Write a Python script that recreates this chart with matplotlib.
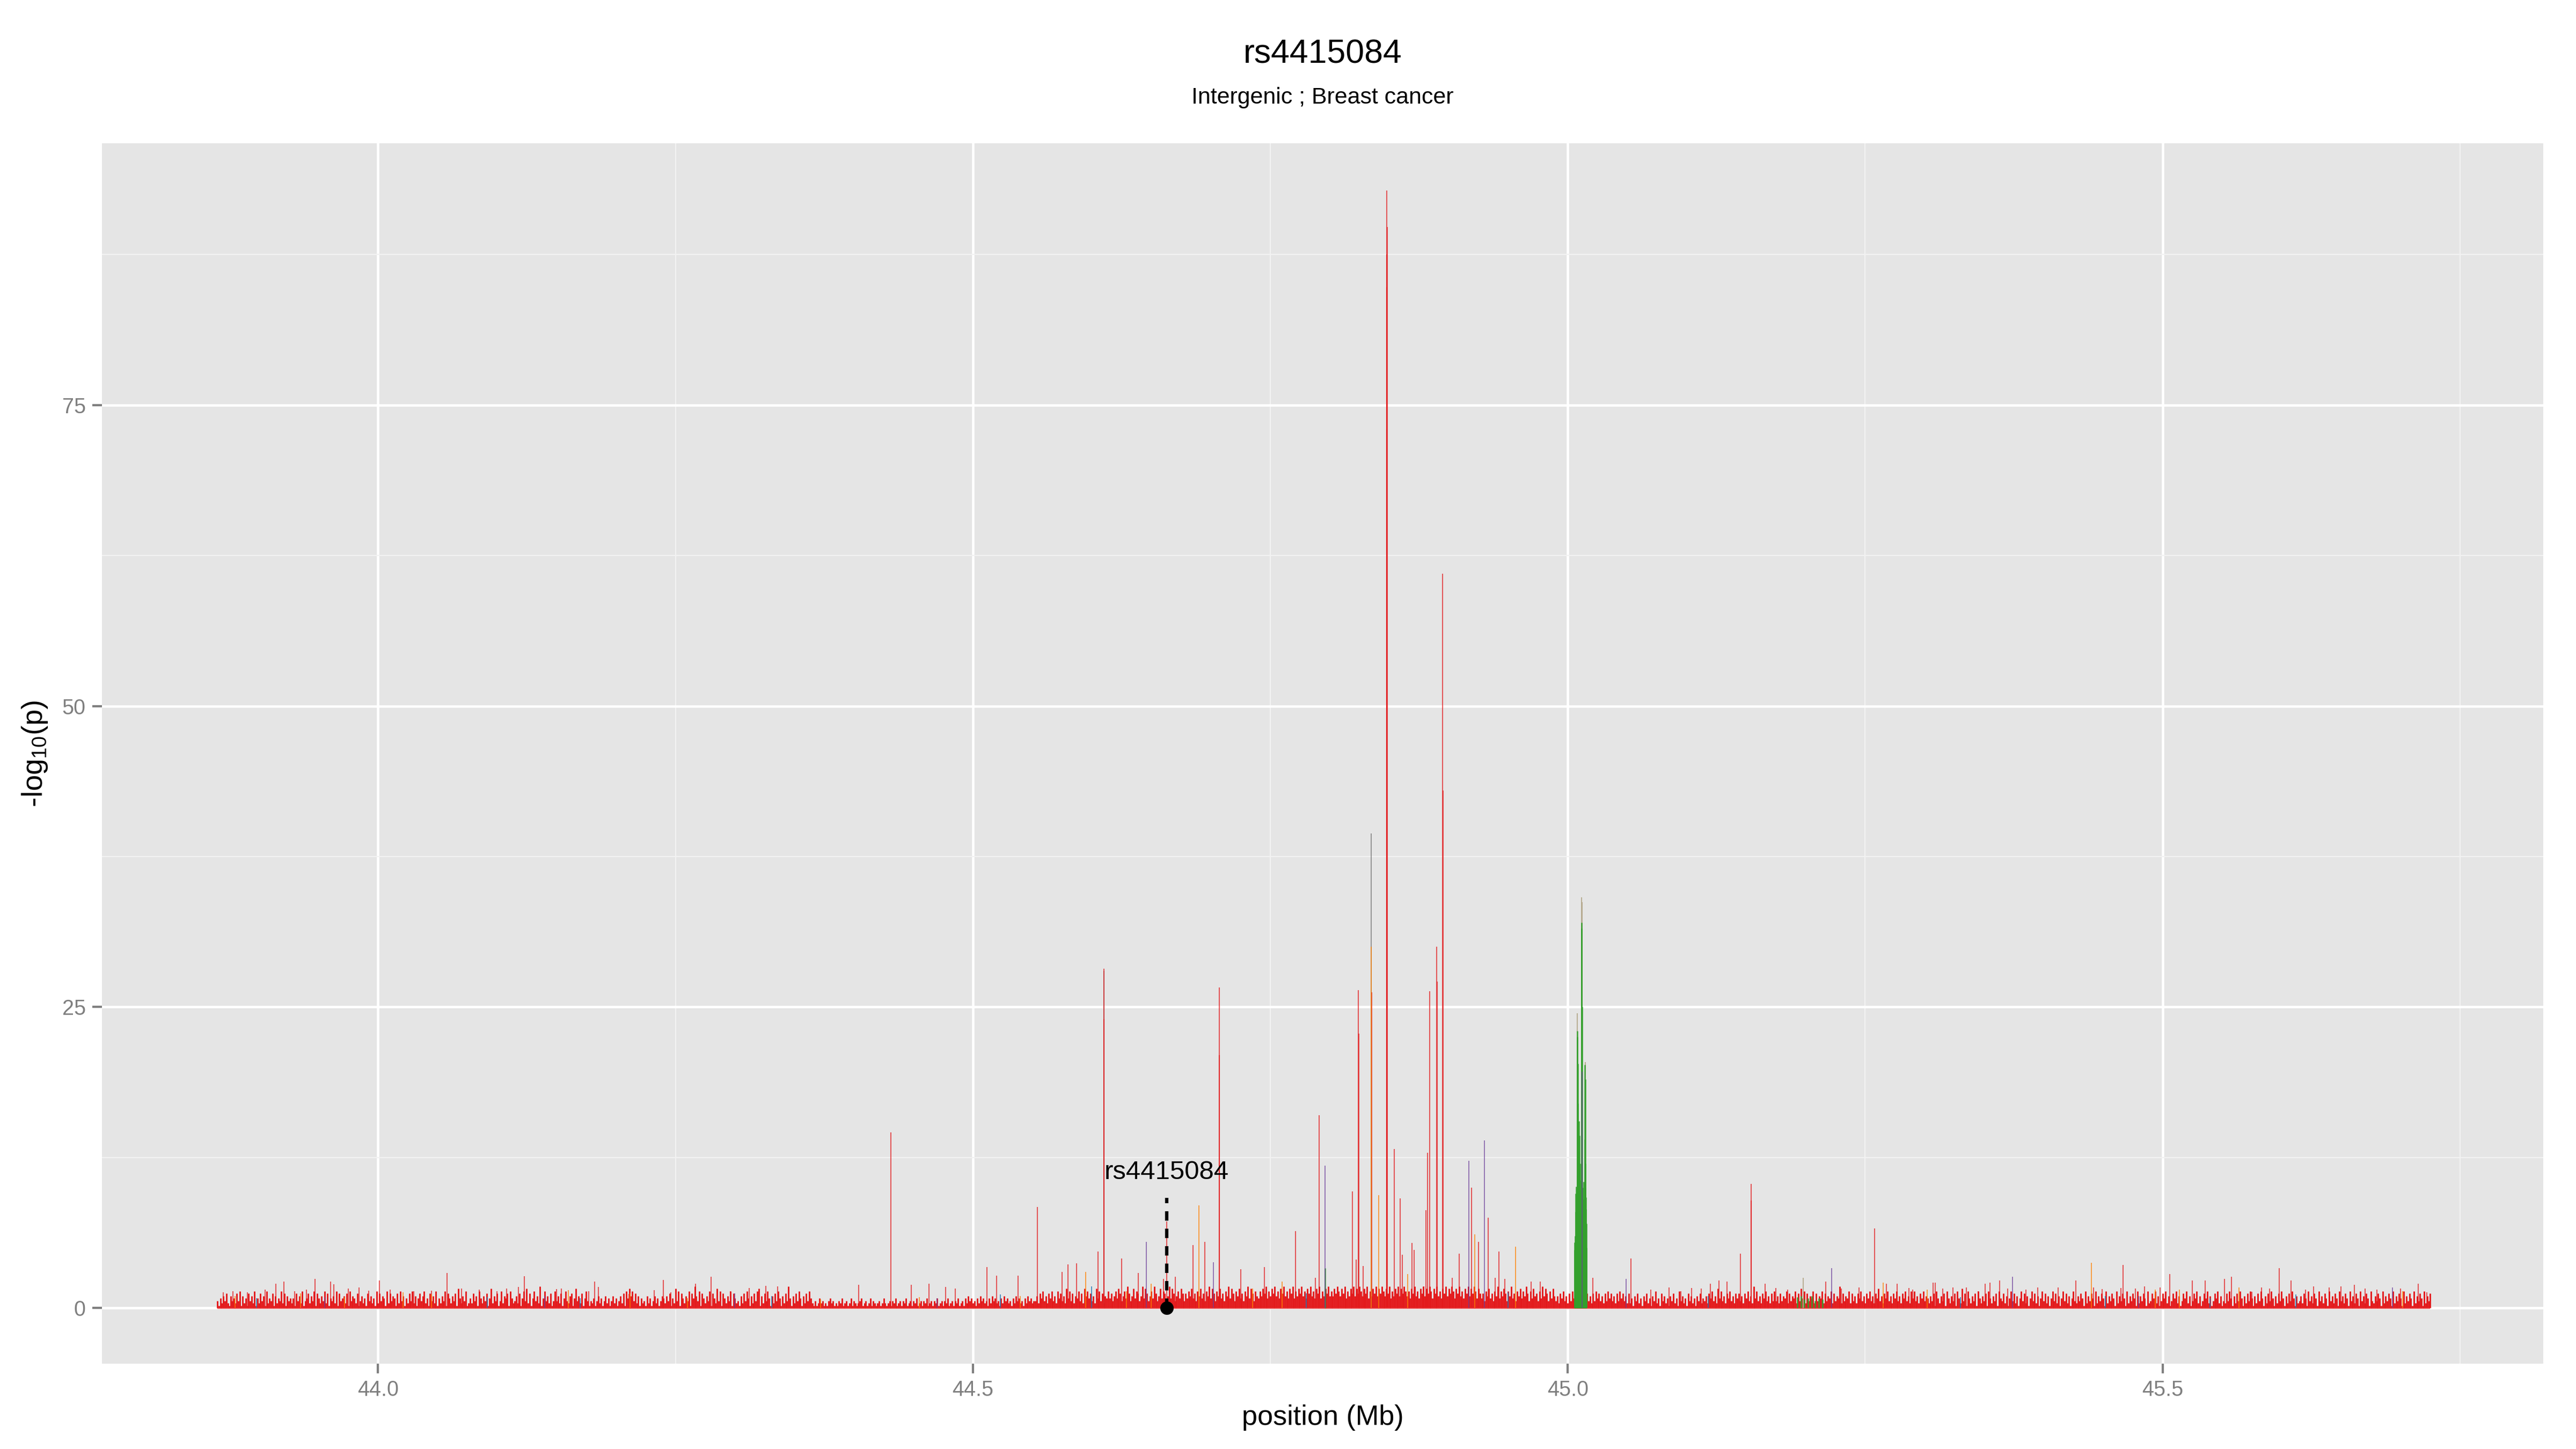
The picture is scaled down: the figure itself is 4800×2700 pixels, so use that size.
import numpy as np
import matplotlib.pyplot as plt
from matplotlib.ticker import MultipleLocator, FormatStrFormatter

plt.rcParams['font.family'] = ['Liberation Sans', 'DejaVu Sans']
plt.rcParams['mathtext.default'] = 'regular'

title = "rs4415084"
subtitle = "Intergenic ; Breast cancer"
lead_snp = "rs4415084"
lead_pos = 44.663
lead_top = 9.13
label_y = 10.7

# dense background: one digit per 1.25 kb bin, -log10(p) = digit * 0.2
bg_start = 43.865
bg_step = 0.00125
bg_scale = 0.2
bg_digits = (
    "31425362153426371524163527142635172436152437261534"
    "24163527134625371642537261435271634526173542613524"
    "16352417263541726354162735142637251463572416352714"
    "25371642536184253712426351742536148253613725461742"
    "35261473826147352914735261373526147325614835261473"
    "13241352413524135241352617485736251423152413524135"
    "42536142837164253716495371642537164283716425371642"
    "31526374152637815263741526374152639415263741526374"
    "21312423121342312132412312413212341231241321231242"
    "12313241231324123132412313241231324123132412313241"
    "23142534231425342314253423142534231425342314253423"
    "35264735264735274635284736254736285746352847362547"
    "46357486357496358476359486357496358476359486357486"
    "36475846375846375948637584637594863758463759486375"
    "47586947586957486957486947586957486957486947586957"
    "58697586947586958697586947586958697586947586958697"
    "57486957486958697486957486958697486957486958697486"
    "46375846375947586375946375847596374856374958637485"
    "35264735263746352637463526374635263746352637463526"
    "24153624153624153724163524153624173524163524153624"
    "35264735284735264735264635264735294735264735263735"
    "26354726354726384726354726354726354726354926354726"
    "35264735264735264835264735264735264735274735264735"
    "42536174253617425361742836174253617425361742536174"
    "36251473625147362514736251473625147362514736251473"
    "25364172536417253641725364172536417253641725364172"
    "36472513647251364725136472513647251364725136472513"
    "26374152637415263741526374152637415263741526374152"
    "35264173526417352641735264173526417352641735264173"
    "253641725364172536417253641725364172536"
)

red_pos = [43.870, 43.878, 43.890, 43.905, 43.914, 43.921, 43.930, 43.940, 43.947,
           43.960, 43.963, 43.975, 43.984, 43.992, 44.001, 44.010, 44.030, 44.045,
           44.058, 44.070, 44.085, 44.100, 44.108, 44.118, 44.123, 44.150, 44.154,
           44.177, 44.182, 44.185, 44.211, 44.232, 44.240, 44.246, 44.267, 44.280,
           44.296, 44.312, 44.326, 44.336, 44.404, 44.431, 44.448, 44.463, 44.477,
           44.485, 44.512, 44.520, 44.538, 44.554, 44.575, 44.580, 44.587, 44.605,
           44.610, 44.6102, 44.625, 44.639, 44.660, 44.663, 44.670, 44.685, 44.695,
           44.707, 44.7072, 44.725, 44.745, 44.771, 44.788, 44.791, 44.819, 44.822,
           44.824, 44.8243, 44.828, 44.8352, 44.848, 44.8482, 44.8478, 44.8481,
           44.8479, 44.854, 44.859, 44.861, 44.869, 44.871, 44.879, 44.881, 44.882,
           44.884, 44.890, 44.8902, 44.895, 44.8952, 44.903, 44.909, 44.919, 44.925,
           44.933, 44.939, 44.942, 44.947, 44.969, 44.977, 45.021, 45.053, 45.070,
           45.085, 45.095, 45.104, 45.112, 45.120, 45.127, 45.134, 45.145, 45.154,
           45.1542, 45.166, 45.175, 45.185, 45.217, 45.230, 45.245, 45.258, 45.268,
           45.277, 45.287, 45.290, 45.307, 45.309, 45.315, 45.324, 45.335, 45.345,
           45.351, 45.355, 45.363, 45.370, 45.385, 45.395, 45.412, 45.427, 45.442,
           45.449, 45.465, 45.467, 45.477, 45.485, 45.498, 45.506, 45.525, 45.536,
           45.546, 45.552, 45.558, 45.575, 45.583, 45.590, 45.598, 45.608, 45.620,
           45.627, 45.640, 45.650, 45.661, 45.670, 45.680, 45.700, 45.715, 45.722]
red_logp = [1.3, 1.4, 1.3, 1.5, 2.0, 2.2, 1.4, 1.5, 2.4,
            2.2, 1.95, 1.6, 1.7, 1.45, 2.3, 1.5, 1.4, 1.45,
            2.9, 1.6, 1.5, 1.4, 1.6, 1.75, 2.65, 1.55, 1.62,
            1.4, 2.17, 1.74, 1.17, 1.47, 2.31, 1.29, 2.0, 2.6,
            1.37, 1.65, 1.85, 1.8, 1.9, 14.6, 1.9, 2.0, 1.75,
            1.6, 3.4, 2.7, 2.7, 8.4, 3.0, 3.6, 3.7, 4.7,
            28.2, 24.0, 4.1, 2.9, 2.4, 7.2, 2.6, 5.2, 5.5,
            26.6, 21.0, 3.2, 3.4, 6.4, 2.5, 16.0, 9.7, 4.0,
            26.4, 22.8, 3.5, 26.2, 92.8, 89.8, 87.5, 84.8,
            73.0, 13.2, 9.1, 4.4, 5.4, 4.8, 1.8, 8.1, 12.9,
            26.3, 30.0, 27.1, 61.0, 43.0, 2.5, 4.5, 10.0, 5.5,
            7.5, 2.5, 4.7, 2.4, 2.2, 2.2, 2.5, 4.1, 1.5,
            1.7, 1.4, 1.65, 1.6, 2.0, 2.3, 2.2, 4.5, 10.3,
            8.9, 2.0, 1.65, 1.5, 2.2, 1.6, 1.7, 6.6, 2.0,
            2.0, 1.65, 1.5, 2.1, 2.1, 1.6, 1.7, 1.7, 1.4,
            2.0, 2.1, 2.3, 1.6, 1.5, 1.7, 1.69, 2.29, 1.72,
            1.55, 1.66, 3.58, 1.6, 1.77, 1.72, 2.8, 2.3, 2.3,
            1.32, 2.4, 2.6, 1.32, 1.7, 1.6, 3.3, 2.3, 1.5,
            1.8, 1.7, 1.8, 1.9, 1.6, 1.5, 1.6, 2.0, 1.3]

orange_pos = [43.880, 43.935, 43.972, 44.021, 44.045, 44.160, 44.212, 44.260, 44.372,
              44.455, 44.540, 44.595, 44.629, 44.650, 44.690, 44.735, 44.760, 44.835,
              44.841, 44.8655, 44.922, 44.956, 45.265, 45.302, 45.440, 45.494, 45.514,
              45.564, 45.702]
orange_logp = [1.0, 1.2, 0.9, 1.3, 1.1, 1.47, 1.2, 0.8, 0.7,
               0.9, 1.0, 3.0, 1.4, 2.0, 8.5, 1.6, 2.2, 30.0,
               9.35, 2.8, 6.1, 5.1, 2.1, 1.5, 3.77, 1.51, 1.54,
               1.69, 1.4]

purple_pos = [43.955, 44.140, 44.300, 44.470, 44.646, 44.702, 44.796, 44.917, 44.930,
              45.0122, 45.049, 45.222, 45.374, 45.480, 45.693]
purple_logp = [0.9, 1.0, 1.2, 0.8, 5.5, 3.8, 11.8, 12.2, 13.9,
               19.6, 2.4, 3.3, 2.6, 1.0, 1.7]

blue_pos = [43.898, 44.092, 44.170, 44.331, 44.523, 44.600, 44.780, 44.950, 45.118,
            45.330, 45.452, 45.540, 45.612]
blue_logp = [0.8, 0.9, 0.8, 1.0, 1.1, 1.8, 1.2, 1.3, 1.0,
             0.9, 1.0, 0.8, 1.1]

gray_pos = [44.835, 44.6101]
gray_logp = [39.4, 28.0]

tan_pos = [45.0080, 45.0116, 45.0121, 45.0146, 45.1981]
tan_logp = [24.5, 34.1, 33.7, 20.4, 2.5]

green_pos = [44.7962, 45.0056, 45.0058, 45.0060, 45.0062, 45.0066, 45.0068, 45.0072,
             45.0074, 45.0078, 45.0080, 45.0082, 45.0084, 45.0086, 45.0088, 45.0090,
             45.0094, 45.0096, 45.0100, 45.0102, 45.0104, 45.0108, 45.0110, 45.0112,
             45.0114, 45.0116, 45.0118, 45.0120, 45.0124, 45.0126, 45.0128, 45.0130,
             45.0132, 45.0134, 45.0136, 45.0138, 45.0140, 45.0142, 45.0144, 45.0146,
             45.0148, 45.0150, 45.0152, 45.0154, 45.0156, 45.0158,
             45.193, 45.196, 45.199, 45.202, 45.205, 45.208, 45.211, 45.214]
green_logp = [3.3, 4.8, 5.45, 6.0, 4.8, 9.5, 8.0, 10.1,
              8.6, 11.0, 23.0, 22.5, 17.0, 20.3, 12.0, 13.0,
              15.5, 11.5, 14.3, 12.0, 10.6, 9.8, 9.5, 8.7,
              18.0, 32.0, 31.5, 25.0, 10.0, 6.6, 7.5, 9.0,
              8.0, 10.5, 8.4, 7.2, 9.0, 20.2, 14.0, 19.0,
              12.0, 10.0, 9.2, 8.2, 7.0, 5.0,
              0.9, 1.0, 0.7, 0.8, 1.0, 0.6, 0.8, 0.7]

RED, ORANGE, GREEN = "#E31A1C", "#FF7F00", "#33A02C"
PURPLE, BLUE, GRAY, TAN = "#6A3D9A", "#1F78B4", "#7A7A7A", "#B5A98C"

bg_h = np.array([int(c) for c in bg_digits]) * bg_scale
bg_x = bg_start + bg_step * np.arange(len(bg_h))

fig = plt.figure(figsize=(16, 9), dpi=300)
ax = fig.add_axes([0.0396, 0.0589, 0.9477, 0.8422])
ax.set_facecolor("#E5E5E5")
for s in ax.spines.values():
    s.set_visible(False)

ax.set_xlim(43.768, 45.820)
ax.set_ylim(-4.63, 96.74)
ax.xaxis.set_major_locator(MultipleLocator(0.5))
ax.xaxis.set_minor_locator(MultipleLocator(0.25))
ax.xaxis.set_major_formatter(FormatStrFormatter("%.1f"))
ax.yaxis.set_major_locator(MultipleLocator(25))
ax.yaxis.set_minor_locator(MultipleLocator(12.5))
ax.grid(which="major", color="white", lw=1.1, zorder=0)
ax.grid(which="minor", color="#F2F2F2", lw=0.55, zorder=0)
ax.set_axisbelow(True)
ax.tick_params(which="major", length=4.3, width=1.0, color="#7F7F7F",
               labelcolor="#7F7F7F", labelsize=9.5, pad=3)
ax.tick_params(which="minor", length=0)

# baseline of dense points
ax.hlines(0, bg_x[0], bg_x[-1], color=RED, alpha=0.6, lw=1.0, zorder=2)
ax.vlines(bg_x, 0, bg_h, color=RED, lw=0.7, alpha=1.0, zorder=2)

ax.vlines(tan_pos, 0, tan_logp, color=TAN, lw=0.5, alpha=0.9, zorder=3)
ax.vlines(gray_pos, 0, gray_logp, color=GRAY, lw=0.45, alpha=0.8, zorder=3)
ax.vlines(red_pos, 0, red_logp, color=RED, lw=0.5, alpha=0.7, zorder=3)
ax.vlines(orange_pos, 0, orange_logp, color=ORANGE, lw=0.45, alpha=0.75, zorder=3)
ax.vlines(blue_pos, 0, blue_logp, color=BLUE, lw=0.45, alpha=0.8, zorder=3)
ax.vlines(green_pos, 0, green_logp, color=GREEN, lw=0.6, alpha=0.95, zorder=3)
ax.vlines(purple_pos, 0, purple_logp, color=PURPLE, lw=0.45, alpha=0.7, zorder=3)

# lead SNP annotation
ax.plot([lead_pos, lead_pos], [0, lead_top], color="black", lw=1.5,
        linestyle=(0, (2.8, 2.4)), zorder=5)
ax.plot([lead_pos], [0], "o", color="black", ms=5, zorder=6)
ax.text(lead_pos, label_y, lead_snp, ha="center", va="baseline", fontsize=11.8,
        color="black", zorder=6)

ax.set_xlabel("position (Mb)", fontsize=12.5, color="black")
ax.set_ylabel("-log$_{10}$(p)", fontsize=13, color="black")
ax.xaxis.set_label_coords(0.5, -0.0334)
ax.yaxis.set_label_coords(-0.0215, 0.5)

cx = 0.0396 + 0.9477 / 2
fig.text(cx, 0.9563, title, ha="center", va="baseline", fontsize=15)
fig.text(cx, 0.9285, subtitle, ha="center", va="baseline", fontsize=10.3)

plt.savefig("out.png", dpi=300)
